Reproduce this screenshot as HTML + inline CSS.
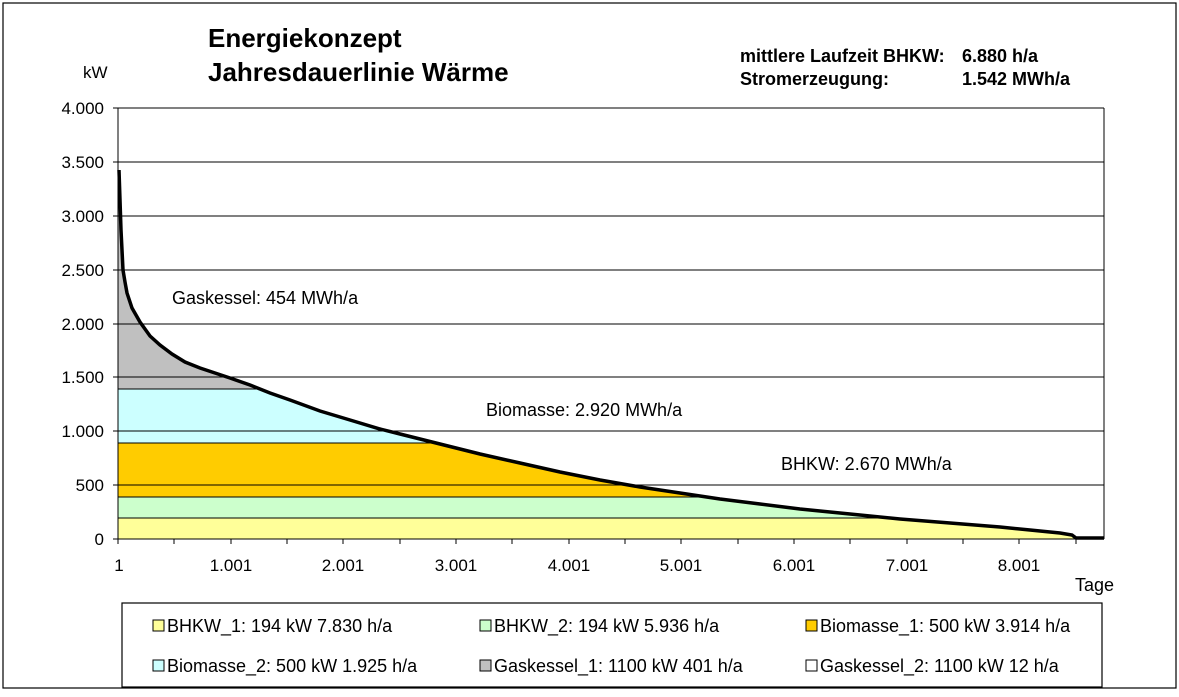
<!DOCTYPE html>
<html><head><meta charset="utf-8"><style>
body{margin:0;background:#fff;}
svg text{font-family:"Liberation Sans",Arial,sans-serif;}
</style></head><body>
<svg width="1179" height="692" xmlns="http://www.w3.org/2000/svg">
<rect x="3" y="3" width="1173" height="685" fill="#fff" stroke="#000" stroke-width="1.2"/>
<defs>
<clipPath id="c"><polygon points="118,170 119,170 121,230 123,270 125,282 127,293 132,308 140,322 150,336 160,345 172,354 185,362 200,368 215,373 230,378 250,385 270,393 290,400 320,411 350,420 380,429 400,434 440,444 480,454 520,463 560,472 600,480 640,487 680,493 720,499 760,504 800,509 850,514 900,519 950,523 1000,527 1030,530 1060,533 1072,535 1076,539 118,539"/></clipPath>
</defs>
<g clip-path="url(#c)">
<rect x="118" y="100" width="990" height="289" fill="#c0c0c0"/>
<rect x="118" y="389" width="990" height="54" fill="#ccffff"/>
<rect x="118" y="443" width="990" height="54" fill="#ffcc00"/>
<rect x="118" y="497" width="990" height="21" fill="#ccffcc"/>
<rect x="118" y="518" width="990" height="21" fill="#ffff99"/>
<g stroke="#000" stroke-width="1">
<line x1="118" y1="389" x2="1104" y2="389"/><line x1="118" y1="443" x2="1104" y2="443"/>
<line x1="118" y1="497" x2="1104" y2="497"/><line x1="118" y1="518" x2="1104" y2="518"/>
</g></g>
<g stroke="#000" stroke-width="1">
<line x1="118" y1="108" x2="1104" y2="108"/><line x1="118" y1="162" x2="1104" y2="162"/>
<line x1="118" y1="216" x2="1104" y2="216"/><line x1="118" y1="270" x2="1104" y2="270"/>
<line x1="118" y1="324" x2="1104" y2="324"/><line x1="118" y1="377" x2="1104" y2="377"/>
<line x1="118" y1="431" x2="1104" y2="431"/><line x1="118" y1="485" x2="1104" y2="485"/>
<line x1="1104" y1="108" x2="1104" y2="539"/>
<line x1="118" y1="108" x2="118" y2="539"/>
<line x1="118" y1="539" x2="1104" y2="539"/>
<line x1="113" y1="108" x2="118" y2="108"/><line x1="113" y1="162" x2="118" y2="162"/>
<line x1="113" y1="216" x2="118" y2="216"/><line x1="113" y1="270" x2="118" y2="270"/>
<line x1="113" y1="324" x2="118" y2="324"/><line x1="113" y1="377" x2="118" y2="377"/>
<line x1="113" y1="431" x2="118" y2="431"/><line x1="113" y1="485" x2="118" y2="485"/>
<line x1="113" y1="539" x2="118" y2="539"/>
<line x1="118" y1="539" x2="118" y2="544"/><line x1="174" y1="539" x2="174" y2="544"/>
<line x1="231" y1="539" x2="231" y2="544"/><line x1="287" y1="539" x2="287" y2="544"/>
<line x1="343" y1="539" x2="343" y2="544"/><line x1="400" y1="539" x2="400" y2="544"/>
<line x1="456" y1="539" x2="456" y2="544"/><line x1="512" y1="539" x2="512" y2="544"/>
<line x1="569" y1="539" x2="569" y2="544"/><line x1="625" y1="539" x2="625" y2="544"/>
<line x1="681" y1="539" x2="681" y2="544"/><line x1="738" y1="539" x2="738" y2="544"/>
<line x1="794" y1="539" x2="794" y2="544"/><line x1="850" y1="539" x2="850" y2="544"/>
<line x1="907" y1="539" x2="907" y2="544"/><line x1="963" y1="539" x2="963" y2="544"/>
<line x1="1019" y1="539" x2="1019" y2="544"/><line x1="1076" y1="539" x2="1076" y2="544"/>
</g>
<polyline fill="none" stroke="#000" stroke-width="3.5" points="119,170 121,230 123,270 125,282 127,293 132,308 140,322 150,336 160,345 172,354 185,362 200,368 215,373 230,378 250,385 270,393 290,400 320,411 350,420 380,429 400,434 440,444 480,454 520,463 560,472 600,480 640,487 680,493 720,499 760,504 800,509 850,514 900,519 950,523 1000,527 1030,530 1060,533 1072,535 1076,538 1104,538"/>
<g font-size="17" text-anchor="end" fill="#000">
<text x="104" y="114">4.000</text><text x="104" y="168">3.500</text><text x="104" y="222">3.000</text>
<text x="104" y="276">2.500</text><text x="104" y="330">2.000</text><text x="104" y="383">1.500</text>
<text x="104" y="437">1.000</text><text x="104" y="491">500</text><text x="104" y="545">0</text>
</g>
<g font-size="17" text-anchor="middle">
<text x="119" y="571">1</text><text x="231" y="571">1.001</text><text x="343" y="571">2.001</text>
<text x="456" y="571">3.001</text><text x="569" y="571">4.001</text><text x="681" y="571">5.001</text>
<text x="794" y="571">6.001</text><text x="907" y="571">7.001</text><text x="1019" y="571">8.001</text>
</g>
<text x="1075" y="591" font-size="18">Tage</text>
<text x="83" y="78" font-size="17">kW</text>
<text x="208" y="47" font-size="26" font-weight="bold">Energiekonzept</text>
<text x="208" y="81" font-size="26" font-weight="bold">Jahresdauerlinie Wärme</text>
<g font-size="18" font-weight="bold">
<text x="740" y="62">mittlere Laufzeit BHKW:</text><text x="962" y="62">6.880 h/a</text>
<text x="740" y="85">Stromerzeugung:</text><text x="962" y="85">1.542 MWh/a</text>
</g>
<g font-size="18">
<text x="172" y="304">Gaskessel: 454 MWh/a</text>
<text x="486" y="416">Biomasse: 2.920 MWh/a</text>
<text x="781" y="470">BHKW: 2.670 MWh/a</text>
</g>
<rect x="122" y="603" width="980" height="84" fill="#fff" stroke="#000" stroke-width="1.2"/>
<g stroke="#000" stroke-width="1">
<rect x="153" y="620" width="11" height="11" fill="#ffff99"/>
<rect x="480" y="620" width="11" height="11" fill="#ccffcc"/>
<rect x="806" y="620" width="11" height="11" fill="#ffcc00"/>
<rect x="153" y="660" width="11" height="11" fill="#ccffff"/>
<rect x="480" y="660" width="11" height="11" fill="#c0c0c0"/>
<rect x="806" y="660" width="11" height="11" fill="#fff"/>
</g>
<g font-size="18">
<text x="167" y="632">BHKW_1: 194 kW 7.830 h/a</text>
<text x="494" y="632">BHKW_2: 194 kW 5.936 h/a</text>
<text x="820" y="632">Biomasse_1: 500 kW 3.914 h/a</text>
<text x="167" y="672">Biomasse_2: 500 kW 1.925 h/a</text>
<text x="494" y="672">Gaskessel_1: 1100 kW 401 h/a</text>
<text x="820" y="672">Gaskessel_2: 1100 kW 12 h/a</text>
</g>
</svg>
</body></html>
